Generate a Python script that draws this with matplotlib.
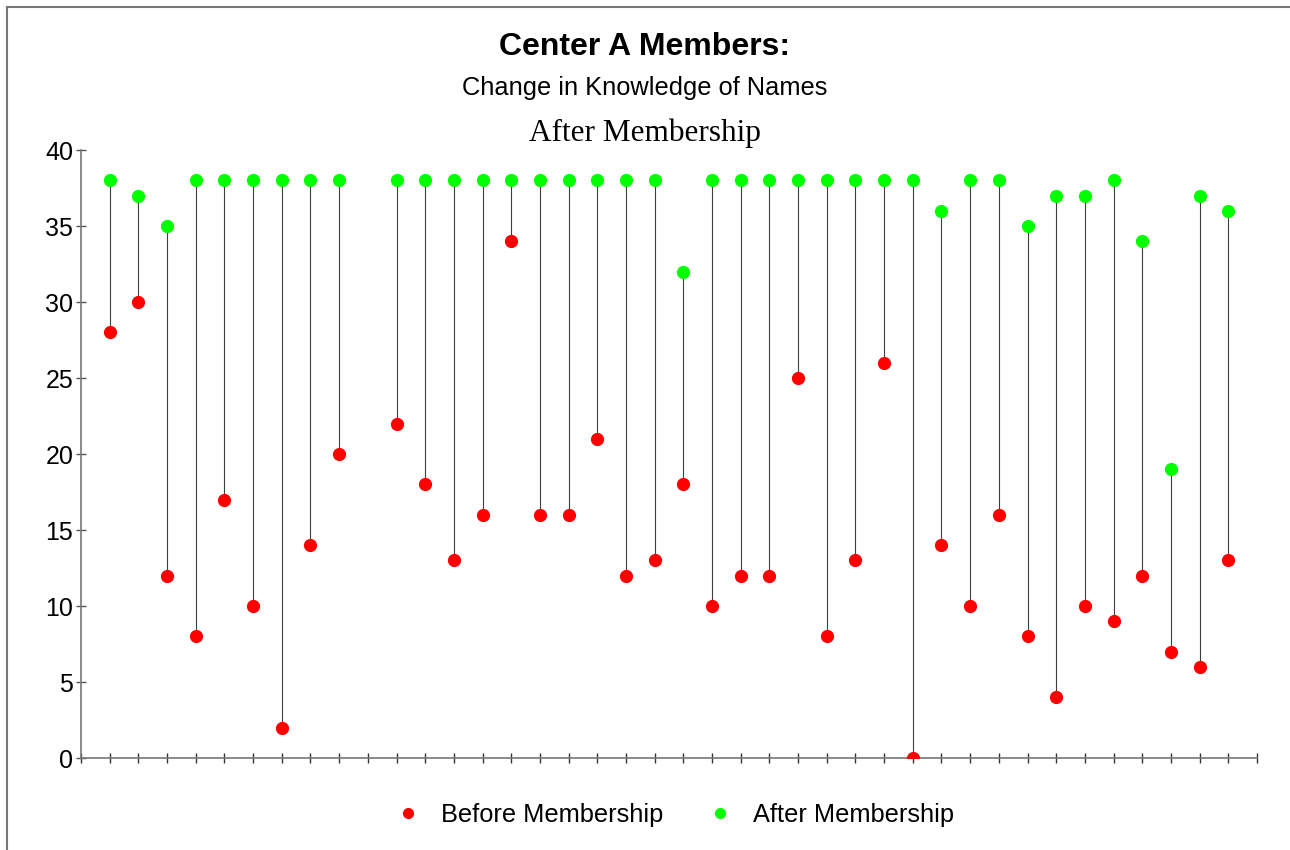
import matplotlib
matplotlib.use("Agg")
import matplotlib.pyplot as plt
from matplotlib.lines import Line2D

# member slots 1..40; slot 10 has no member
members = [1, 2, 3, 4, 5, 6, 7, 8, 9, 11, 12, 13, 14, 15, 16, 17, 18, 19, 20,
           21, 22, 23, 24, 25, 26, 27, 28, 29, 30, 31, 32, 33, 34, 35, 36, 37,
           38, 39, 40]
before = [28, 30, 12, 8, 17, 10, 2, 14, 20, 22, 18, 13, 16, 34, 16, 16, 21, 12,
          13, 18, 10, 12, 12, 25, 8, 13, 26, 0, 14, 10, 16, 8, 4, 10, 9, 12, 7,
          6, 13]
after = [38, 37, 35, 38, 38, 38, 38, 38, 38, 38, 38, 38, 38, 38, 38, 38, 38, 38,
         38, 32, 38, 38, 38, 38, 38, 38, 38, 38, 36, 38, 38, 35, 37, 37, 38, 34,
         19, 37, 36]
y_ticks = [0, 5, 10, 15, 20, 25, 30, 35, 40]

plt.rcParams["font.family"] = ["Liberation Sans", "DejaVu Sans"]

fig = plt.figure(figsize=(12.9, 8.5), dpi=100)
ax = fig.add_axes([0.0628, 0.1082, 0.9116, 0.7153])

ax.vlines(members, before, after, color="#404040", linewidth=0.8, zorder=2)
ax.plot(members, before, "o", color="#ff0000", markersize=8.5, zorder=3,
        label="Before Membership")
ax.plot(members, after, "o", color="#00ff00", markersize=8.5, zorder=3,
        label="After Membership")

ax.set_xlim(0, 41)
ax.set_ylim(0, 40)
ax.set_xticks(range(0, 42))
ax.set_xticklabels([])
ax.set_yticks(y_ticks)
ax.set_yticklabels([str(v) for v in y_ticks], fontsize=18)

for side in ["top", "right"]:
    ax.spines[side].set_visible(False)
for side in ["left", "bottom"]:
    ax.spines[side].set_color("#777777")
    ax.spines[side].set_linewidth(1.2)
ax.tick_params(axis="x", direction="inout", length=7, width=1, color="#333333")
ax.tick_params(axis="y", direction="inout", length=7, width=1, color="#555555", pad=2)

fig.text(0.5, 1 - 47 / 850, "Center A Members:", ha="center", va="center",
         fontsize=23, fontweight="bold")
fig.text(0.5, 1 - 88 / 850, "Change in Knowledge of Names", ha="center",
         va="center", fontsize=18.3)
fig.text(0.5, 1 - 133 / 850, "After Membership", ha="center", va="center",
         fontsize=22.5, family="Liberation Serif")

handles = [
    Line2D([], [], marker="o", linestyle="none", color="#ff0000", markersize=7),
    Line2D([], [], marker="o", linestyle="none", color="#00ff00", markersize=7),
]
fig.legend(handles, ["Before Membership", "After Membership"], loc="center",
           bbox_to_anchor=(0.523, 1 - 815 / 850), ncol=2, frameon=False,
           fontsize=18.3, handletextpad=0.8, columnspacing=1.75, handlelength=1.0)

# figure border (left and top edges visible in the original)
fig.add_artist(Line2D([7 / 1290, 7 / 1290], [0, 1 - 7 / 850],
                      color="#777777", linewidth=1.5, transform=fig.transFigure))
fig.add_artist(Line2D([7 / 1290, 1], [1 - 7 / 850, 1 - 7 / 850],
                      color="#777777", linewidth=1.5, transform=fig.transFigure))

fig.savefig("out.png", dpi=100)
